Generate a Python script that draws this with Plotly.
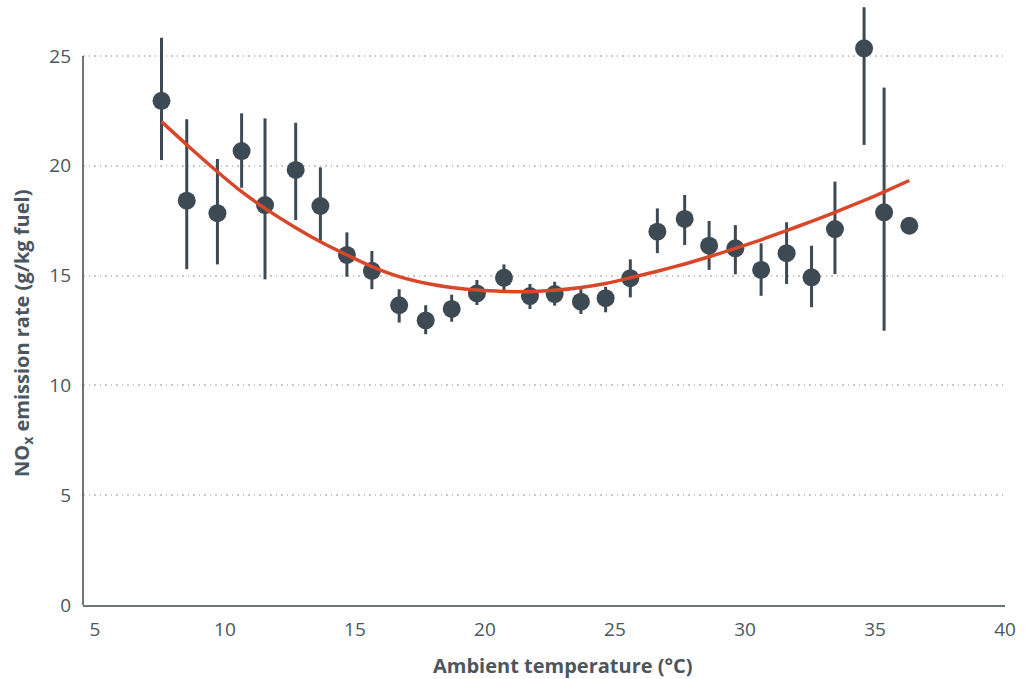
import plotly.graph_objects as go

# Binned data
temp = [7.56, 8.53, 9.71, 10.64, 11.54, 12.72, 13.67, 14.69, 15.65, 16.70,
        17.72, 18.72, 19.69, 20.73, 21.73, 22.68, 23.69, 24.64, 25.59, 26.63,
        27.68, 28.62, 29.63, 30.62, 31.60, 32.56, 33.46, 34.58, 35.35, 36.32]
nox = [22.96, 18.41, 17.84, 20.67, 18.21, 19.81, 18.17, 15.94, 15.22, 13.65,
       12.96, 13.48, 14.19, 14.90, 14.07, 14.16, 13.81, 13.97, 14.88, 17.00,
       17.58, 16.36, 16.24, 15.26, 16.02, 14.92, 17.12, 25.35, 17.88, 17.27]
nox_high = [25.83, 22.12, 20.31, 22.39, 22.16, 21.96, 19.93, 16.97, 16.12, 14.38,
            13.65, 14.13, 14.80, 15.51, 14.62, 14.72, 14.38, 14.49, 15.74, 18.06,
            18.67, 17.49, 17.30, 16.47, 17.43, 16.36, 19.28, 27.22, 23.56, 17.27]
nox_low = [20.26, 15.29, 15.51, 19.00, 14.83, 17.53, 16.54, 14.95, 14.38, 12.86,
           12.33, 12.90, 13.66, 14.34, 13.48, 13.63, 13.25, 13.33, 14.01, 16.02,
           16.39, 15.26, 15.06, 14.08, 14.62, 13.56, 15.07, 20.95, 12.49, 17.27]

# Fitted trend curve
fit_x = [7.56, 8.53, 9.71, 10.64, 11.54, 12.72, 13.67, 14.69, 15.65, 16.70,
         17.72, 18.72, 19.69, 20.73, 21.73, 22.68, 23.69, 24.64, 25.59, 26.63,
         27.68, 28.62, 29.63, 30.62, 31.60, 32.56, 33.46, 34.58, 35.35, 36.32]
fit_y = [22.01, 20.96, 19.73, 18.82, 18.06, 17.18, 16.54, 15.94, 15.41, 14.95,
         14.65, 14.46, 14.34, 14.28, 14.27, 14.33, 14.46, 14.64, 14.90, 15.20,
         15.53, 15.86, 16.24, 16.63, 17.05, 17.47, 17.88, 18.42, 18.81, 19.33]

x_ticks = [5, 10, 15, 20, 25, 30, 35, 40]
y_ticks = [0, 5, 10, 15, 20, 25]

dark = "#3d4a54"
red = "#d9472b"
tick_col = "#4b5660"
font_family = "Open Sans, Lato, sans-serif"

err_plus = [h - v for h, v in zip(nox_high, nox)]
err_minus = [v - l for v, l in zip(nox, nox_low)]

fig = go.Figure()
fig.add_trace(go.Scatter(
    x=temp, y=nox, mode="markers",
    marker=dict(size=18, color=dark),
    error_y=dict(type="data", symmetric=False, array=err_plus, arrayminus=err_minus,
                 color=dark, thickness=3, width=0),
    showlegend=False,
))
fig.add_trace(go.Scatter(
    x=fit_x, y=fit_y, mode="lines",
    line=dict(color=red, width=3.5, shape="spline", smoothing=0.6),
    showlegend=False,
))

fig.update_layout(
    width=1034, height=679,
    margin=dict(l=83, r=29, t=0, b=74),
    plot_bgcolor="white", paper_bgcolor="white",
    font=dict(family=font_family, color=tick_col),
    xaxis=dict(
        range=[4.54, 40], tickvals=x_ticks, showgrid=False, zeroline=False,
        showline=True, linecolor="#6e757b", linewidth=2,
        ticks="", ticklabelstandoff=6, automargin=False,
        tickfont=dict(size=19, color=tick_col, family=font_family),
    ),
    yaxis=dict(
        range=[0, 27.55], tickvals=y_ticks, showgrid=True, gridcolor="#c8c8c8",
        griddash="1.5px,4px", gridwidth=1.5, zeroline=False, showline=False,
        ticks="", ticklabelstandoff=11, automargin=False,
        tickfont=dict(size=19, color=tick_col, family=font_family),
    ),
    shapes=[dict(type="line", xref="paper", yref="y", x0=0, x1=0, y0=0, y1=25,
                 line=dict(color="#6e757b", width=2), layer="above")],
    annotations=[
        dict(text="<b>Ambient temperature (°C)</b>", xref="paper", yref="paper",
             x=(563 - 83) / 922, y=-(665 - 605) / 605, xanchor="center", yanchor="middle",
             showarrow=False, font=dict(size=20, color=tick_col, family=font_family)),
        dict(text="<b>NO<sub>x</sub> emission rate (g/kg fuel)</b>", xref="paper", yref="paper",
             x=-(83 - 22) / 922, y=(605 - 334) / 605, xanchor="center", yanchor="middle",
             textangle=-90, showarrow=False,
             font=dict(size=20, color=tick_col, family=font_family)),
    ],
)

fig.write_html("out.html", config={"displayModeBar": False},
               post_script="document.body.style.margin='0';")
